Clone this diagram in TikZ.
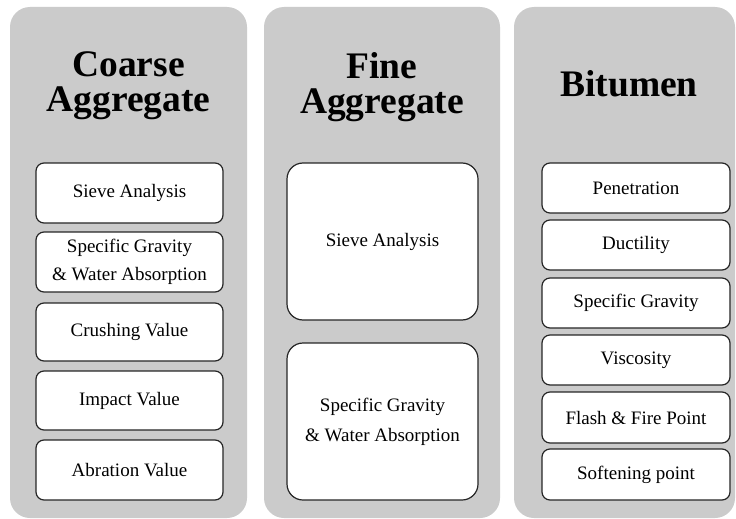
\documentclass[tikz,border=0pt]{standalone}
\usepackage{fontspec}
\setmainfont{Liberation Serif}
\definecolor{colgrey}{HTML}{CBCBCB}
\definecolor{boxline}{HTML}{262626}
\tikzset{
  column/.style={fill=colgrey, draw=none, rounded corners=20pt},
  testbox/.style={draw=boxline, line width=1.2pt, fill=white, rounded corners=8pt, align=center,
    font=\fontsize{19}{28}\selectfont, inner sep=0pt},
  bigbox/.style={testbox, rounded corners=16pt},
  heading/.style={align=center, font=\fontsize{37.5}{35}\selectfont\bfseries, inner sep=0pt}
}
\begin{document}
\begin{tikzpicture}[x=1pt,y=-1pt]
\useasboundingbox (0,0) rectangle (736,519);
% columns
\fill[column] (10,7) rectangle (247,518);
\fill[column] (264,7) rectangle (500,518);
\fill[column] (514,7) rectangle (735,518);
% headings
\node[heading] (h1) at (128.5,86) {Coarse\\Aggregate};
\node[heading] (h2) at (382,87) {Fine\\Aggregate};
\node[heading] (h3) at (629,84) {Bitumen};
% column 1
\node[testbox, minimum width=187pt, minimum height=60pt] (c1) at (129.5,193) {Sieve Analysis};
\node[testbox, minimum width=187pt, minimum height=60pt] (c2) at (129.5,262) {Specific Gravity\\\& Water Absorption};
\node[testbox, minimum width=187pt, minimum height=58pt] (c3) at (129.5,332) {Crushing Value};
\node[testbox, minimum width=187pt, minimum height=59pt] (c4) at (129.5,400.5) {Impact Value};
\node[testbox, minimum width=187pt, minimum height=60pt] (c5) at (129.5,470) {Abration Value};
% column 2
\node[bigbox, minimum width=191pt, minimum height=157pt] (f1) at (382.5,241.5) {Sieve Analysis};
\node[bigbox, minimum width=191pt, minimum height=157pt, font=\fontsize{19}{30}\selectfont] (f2) at (382.5,421.5) {Specific Gravity\\\& Water Absorption};
% column 3
\node[testbox, minimum width=188pt, minimum height=50pt] (b1) at (636,188) {Penetration};
\node[testbox, minimum width=188pt, minimum height=50pt] (b2) at (636,245) {Ductility};
\node[testbox, minimum width=188pt, minimum height=50pt] (b3) at (636,303) {Specific Gravity};
\node[testbox, minimum width=188pt, minimum height=50pt] (b4) at (636,360) {Viscosity};
\node[testbox, minimum width=188pt, minimum height=51pt] (b5) at (636,417.5) {Flash \& Fire Point};
\node[testbox, minimum width=188pt, minimum height=51pt] (b6) at (636,474.5) {Softening point};
\end{tikzpicture}
\end{document}
